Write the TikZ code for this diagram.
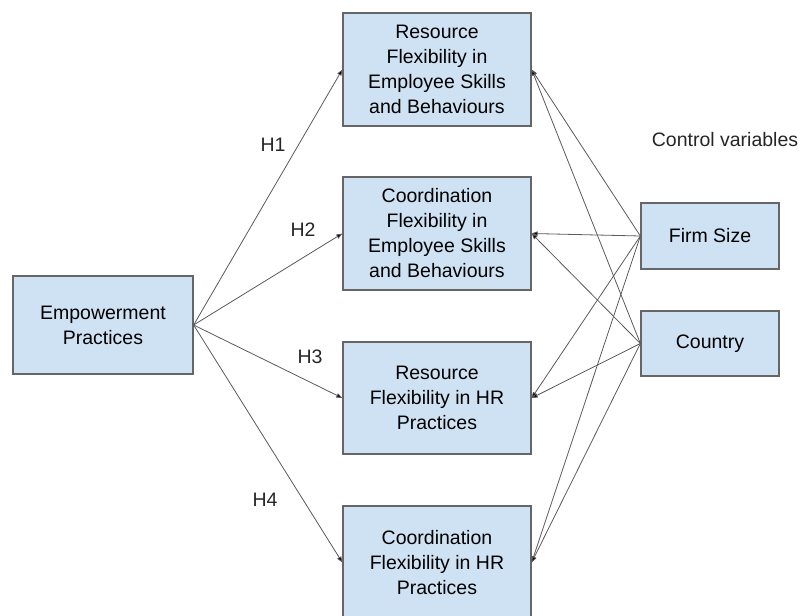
\documentclass[tikz,border=0pt]{standalone}
\usepackage{fontspec}
\setmainfont{Liberation Sans}
\usetikzlibrary{arrows.meta}
\definecolor{boxfill}{HTML}{CFE2F3}
\definecolor{boxedge}{HTML}{666666}
\definecolor{linkcol}{HTML}{5A5A5A}
\begin{document}
\begin{tikzpicture}[x=1pt,y=-1pt,
  varbox/.style={draw=boxedge,line width=1.3pt,fill=boxfill,rectangle,
    inner sep=0pt,align=center,font=\fontsize{19.5}{25}\selectfont},
  link/.style={draw=linkcol,line width=0.8pt,
    -{Triangle[length=6pt,width=4.5pt,fill=black]}},
  lbl/.style={font=\fontsize{19.5}{24}\selectfont,text=black!85}]
\useasboundingbox (0,0) rectangle (804,616);
\clip (0,0) rectangle (804,616);

% independent variable
\node[varbox,minimum width=180pt,minimum height=98pt] (emp) at (103,325)
  {Empowerment\\Practices};

% outcome variables
\node[varbox,minimum width=188pt,minimum height=113pt] (rfe) at (437,69.5)
  {Resource\\Flexibility in\\Employee Skills\\and Behaviours};
\node[varbox,minimum width=188pt,minimum height=113pt] (cfe) at (437,233.5)
  {Coordination\\Flexibility in\\Employee Skills\\and Behaviours};
\node[varbox,minimum width=188pt,minimum height=112pt] (rfh) at (437,398)
  {Resource\\Flexibility in HR\\Practices};
\node[varbox,minimum width=188pt,minimum height=113pt] (cfh) at (437,562.5)
  {Coordination\\Flexibility in HR\\Practices};

% control variables
\node[lbl] (ctl) at (725,140) {Control variables};
\node[varbox,minimum width=138pt,minimum height=66pt] (firm) at (710,236) {Firm Size};
\node[varbox,minimum width=138pt,minimum height=65pt] (ctry) at (710,343.5) {Country};

% hypotheses
\draw[link] (emp.east) -- (rfe.west);
\draw[link] (emp.east) -- (cfe.west);
\draw[link] (emp.east) -- (rfh.west);
\draw[link] (emp.east) -- (cfh.west);
\node[lbl] (h1) at (273,145) {H1};
\node[lbl] (h2) at (303,230) {H2};
\node[lbl] (h3) at (310,357) {H3};
\node[lbl] (h4) at (265,500) {H4};

% control paths
\foreach \t in {rfe,cfe,rfh,cfh}{
  \draw[link] (firm.west) -- (\t.east);
  \draw[link] (ctry.west) -- (\t.east);
}
\end{tikzpicture}
\end{document}
